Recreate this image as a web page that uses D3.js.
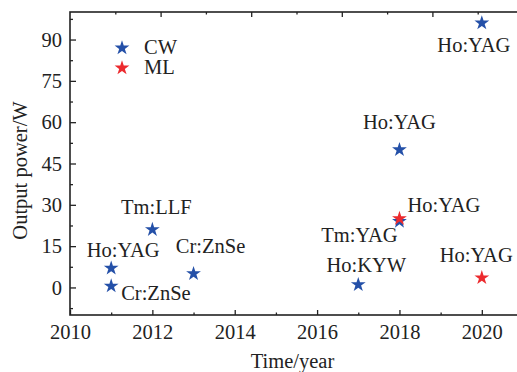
<!DOCTYPE html>
<html>
<head>
<meta charset="utf-8">
<script src="https://cdn.jsdelivr.net/npm/d3@7"></script>
<style>
  html, body { margin: 0; padding: 0; background: #fff; }
  svg { display: block; }
</style>
</head>
<body>
<svg id="chart" width="517" height="372"></svg>
<script>
// Continuous-wave (CW) lasers
const cwYear    = [2011, 2011, 2012, 2013, 2017, 2018, 2018, 2020];
const cwPower   = [7, 0.5, 21, 5, 1, 50, 24, 96];
const cwCrystal = ["Ho:YAG", "Cr:ZnSe", "Tm:LLF", "Cr:ZnSe", "Ho:KYW", "Ho:YAG", "Tm:YAG", "Ho:YAG"];

// Mode-locked (ML) lasers
const mlYear    = [2018, 2020];
const mlPower   = [25, 3.5];
const mlCrystal = ["Ho:YAG", "Ho:YAG"];

// Axis ticks
const xTickLabels = [2010, 2012, 2014, 2016, 2018, 2020];
const yTickLabels = [0, 15, 30, 45, 60, 75, 90];

const seriesNames = ["CW", "ML"];

// label placement relative to each star: [dx, dy, anchor]
const cwLabelPlace = [
  [12, -11, "middle"], [10, 14, "start"], [4, -16, "middle"], [17, -21, "middle"],
  [8, -13, "middle"], [0, -21, "middle"], [-40, 21, "middle"], [-8, 29, "middle"]
];
const mlLabelPlace = [[8, -7, "start"], [-42, -16, "start"]];

const colors = { CW: "#2450a8", ML: "#ec2a2e" };
const margin = { left: 70, top: 12, right: 523, bottom: 315 };
const fontSize = 20.5;
const serif = '"Times New Roman", Tinos, "Liberation Serif", "DejaVu Serif", serif';
const ink = "#222";

const svg = d3.select("#chart")
  .style("font-family", serif);

const x = d3.scaleLinear().domain([2010, 2021]).range([margin.left, margin.right]);
const xTop = d3.scaleLinear().domain([2010, 2020]).range([margin.left, margin.right]);
const y = d3.scaleLinear().domain([-10, 100]).range([margin.bottom, margin.top]);

function styleText(sel) {
  sel.attr("font-size", fontSize)
    .attr("font-family", serif)
    .style("font-family", serif)
    .style("font-size", fontSize + "px")
    .attr("fill", ink);
}

function styleAxis(g) {
  g.attr("font-family", null).attr("font-size", null);
  g.select(".domain").remove();
  g.selectAll("line").attr("stroke", ink).attr("stroke-width", 1.3);
  g.selectAll("text").call(styleText);
}

// minor ticks
const xMinor = d3.range(2011, 2021, 2);
const yMinor = d3.range(-7.5, 100, 15);

// bottom axis
svg.append("g").attr("transform", `translate(0,${margin.bottom})`)
  .call(d3.axisBottom(x).tickValues(xMinor).tickSize(-2.5).tickFormat(""))
  .call(styleAxis);
svg.append("g").attr("transform", `translate(0,${margin.bottom})`)
  .call(d3.axisBottom(x).tickValues(xTickLabels).tickSize(-5).tickPadding(9).tickFormat(d3.format("d")))
  .call(styleAxis)
  .call(g => g.selectAll("text").attr("dy", "0.71em"));

// top axis
svg.append("g").attr("transform", `translate(0,${margin.top})`)
  .call(d3.axisTop(xTop).tickValues(d3.range(2011, 2021, 2)).tickSize(-2.5).tickFormat(""))
  .call(styleAxis);
svg.append("g").attr("transform", `translate(0,${margin.top})`)
  .call(d3.axisTop(xTop).tickValues(d3.range(2012, 2021, 2)).tickSize(-5).tickFormat(""))
  .call(styleAxis);

// left axis
svg.append("g").attr("transform", `translate(${margin.left},0)`)
  .call(d3.axisLeft(y).tickValues(yMinor).tickSize(-3).tickFormat(""))
  .call(styleAxis);
svg.append("g").attr("transform", `translate(${margin.left},0)`)
  .call(d3.axisLeft(y).tickValues(yTickLabels).tickSize(-6).tickPadding(8).tickFormat(d3.format("d")))
  .call(styleAxis);

// frame
svg.append("rect")
  .attr("x", margin.left).attr("y", margin.top)
  .attr("width", margin.right - margin.left).attr("height", margin.bottom - margin.top)
  .attr("fill", "none").attr("stroke", ink).attr("stroke-width", 1.6);

// axis titles
svg.append("text")
  .attr("x", (x(2010) + x(2021)) / 2 - 4).attr("y", 368)
  .attr("text-anchor", "middle")
  .call(styleText)
  .text("Time/year");
svg.append("text")
  .attr("transform", `translate(27,${(y(-10) + y(100)) / 2 + 7}) rotate(-90)`)
  .attr("text-anchor", "middle")
  .call(styleText)
  .text("Output power/W");

const star = d3.symbol().type(d3.symbolStar).size(68);

function drawSeries(years, powers, names, place, color) {
  const g = svg.append("g");
  g.selectAll("path").data(years).join("path")
    .attr("d", star)
    .attr("transform", (d, i) => `translate(${x(d)},${y(powers[i])})`)
    .attr("fill", color);
  g.selectAll("text").data(years).join("text")
    .attr("x", (d, i) => x(d) + place[i][0])
    .attr("y", (d, i) => y(powers[i]) + place[i][1])
    .attr("text-anchor", (d, i) => place[i][2])
    .call(styleText)
    .text((d, i) => names[i]);
}

drawSeries(cwYear, cwPower, cwCrystal, cwLabelPlace, colors.CW);
drawSeries(mlYear, mlPower, mlCrystal, mlLabelPlace, colors.ML);

// legend
const legend = svg.append("g").attr("transform", "translate(122,48)");
seriesNames.forEach((name, i) => {
  const row = legend.append("g").attr("transform", `translate(0,${i * 20})`);
  row.append("path").attr("d", star).attr("fill", colors[name]);
  row.append("text").attr("x", 22).attr("y", 5.5).call(styleText).text(name);
});
</script>
</body>
</html>
